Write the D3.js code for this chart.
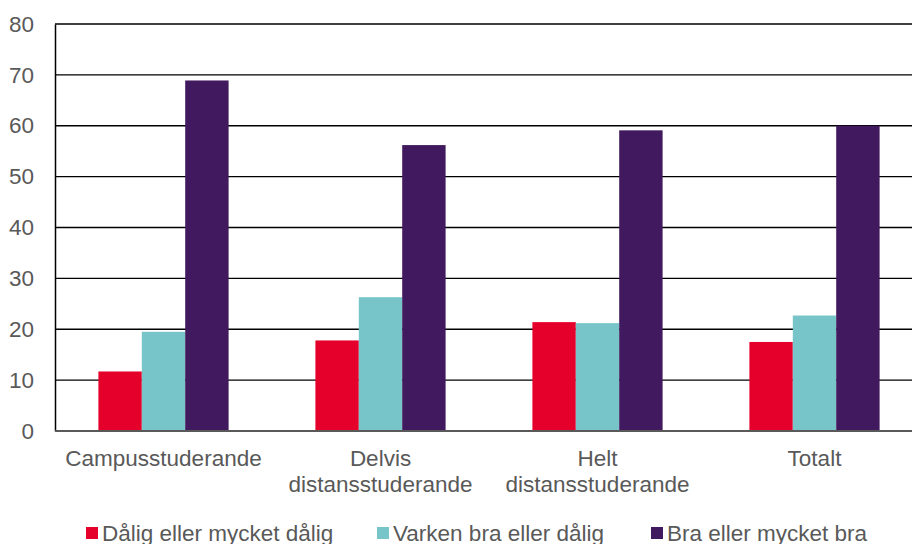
<!DOCTYPE html>
<html>
<head>
<meta charset="utf-8">
<script src="https://cdn.jsdelivr.net/npm/d3@7"></script>
<style>
  body { margin: 0; background: #fff; }
  text { font-family: "Liberation Sans", Arial, sans-serif; fill: #595959; }
</style>
</head>
<body>
<script>
const categories = [["Campusstuderande"], ["Delvis", "distansstuderande"], ["Helt", "distansstuderande"], ["Totalt"]];
const seriesNames = ["Dålig eller mycket dålig", "Varken bra eller dålig", "Bra eller mycket bra"];
const colors = ["#E4002B", "#77C5C8", "#41195E"];
const dalig = [11.7, 17.8, 21.4, 17.5];
const varken = [19.5, 26.3, 21.2, 22.7];
const bra = [68.9, 56.2, 59.1, 60.0];
const yTicks = [0, 10, 20, 30, 40, 50, 60, 70, 80];

const w = 912, h = 544;
const padLeft = 55, padTop = 24, padBottom = 431;
const series = [dalig, varken, bra];

const svg = d3.select("body").append("svg")
    .attr("width", w)
    .attr("height", h);

const xScale = d3.scaleBand()
    .domain(d3.range(categories.length))
    .range([padLeft, padLeft + 4 * 217])
    .paddingInner(0.4)
    .paddingOuter(0.2);
const xSub = d3.scaleBand()
    .domain(d3.range(series.length))
    .range([0, xScale.bandwidth()]);
const yScale = d3.scaleLinear()
    .domain([0, 80])
    .range([padBottom, padTop]);

// gridlines
svg.append("g")
    .selectAll("line")
    .data(yTicks.filter(d => d > 0))
    .enter()
    .append("line")
    .attr("x1", padLeft)
    .attr("x2", w)
    .attr("y1", d => yScale(d))
    .attr("y2", d => yScale(d))
    .attr("stroke", "#000")
    .attr("stroke-width", 1.3);

// bars
series.forEach((vals, s) => {
    svg.append("g")
        .selectAll("rect")
        .data(vals)
        .enter()
        .append("rect")
        .attr("x", (d, i) => xScale(i) + xSub(s))
        .attr("y", d => yScale(d))
        .attr("width", xSub.bandwidth())
        .attr("height", d => yScale(0) - yScale(d))
        .attr("fill", colors[s]);
});

// y axis
const yAxis = svg.append("g")
    .attr("transform", "translate(" + padLeft + ",0)")
    .call(d3.axisLeft(yScale).tickValues(yTicks).tickSize(0).tickPadding(21));
yAxis.select(".domain").attr("stroke", "#000").attr("stroke-width", 1.5);
yAxis.selectAll("text")
    .style("font-size", "22.5px")
    .attr("fill", "#595959");

// x axis line
svg.append("line")
    .attr("x1", padLeft)
    .attr("x2", w)
    .attr("y1", yScale(0))
    .attr("y2", yScale(0))
    .attr("stroke", "#595959")
    .attr("stroke-width", 2);

// category labels
const catLabels = svg.append("g")
    .selectAll("text")
    .data(categories)
    .enter()
    .append("text")
    .attr("text-anchor", "middle")
    .style("font-size", "22.5px")
    .attr("transform", (d, i) => "translate(" + (xScale(i) + xScale.bandwidth() / 2) + ",466)");
catLabels.selectAll("tspan")
    .data(d => d)
    .enter()
    .append("tspan")
    .attr("x", 0)
    .attr("y", (d, i) => i * 26)
    .text(d => d);

// legend
const legendX = [86, 377, 651];
const legend = svg.append("g")
    .selectAll("g")
    .data(seriesNames)
    .enter()
    .append("g")
    .attr("transform", (d, i) => "translate(" + legendX[i] + ",527)");
legend.append("rect")
    .attr("width", 12)
    .attr("height", 12)
    .attr("fill", (d, i) => colors[i]);
legend.append("text")
    .attr("x", 16)
    .attr("y", 14)
    .style("font-size", "22.5px")
    .text(d => d);
</script>
</body>
</html>
